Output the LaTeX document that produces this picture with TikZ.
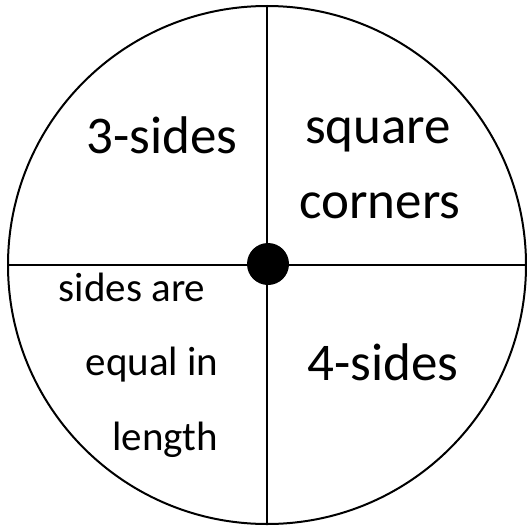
\documentclass[tikz,border=0pt]{standalone}
\usepackage{fontspec}
\setmainfont{Carlito}
\begin{document}
\begin{tikzpicture}[x=1pt,y=-1pt,
  big/.style={anchor=base,font=\fontsize{53}{60}\selectfont,inner sep=0pt},
  small/.style={anchor=base,font=\fontsize{41}{48}\selectfont,inner sep=0pt},
  line/.style={line width=2pt}]
\useasboundingbox (0,0) rectangle (527,527);
\coordinate (c) at (267,265);
\node[circle,draw,line width=2pt,minimum size=518pt,inner sep=0pt] (ring) at (c) {};
\draw[line] (ring.north) -- (ring.south);
\draw[line] (ring.west) -- (ring.east);
\node[circle,fill=black,minimum size=42pt,inner sep=0pt] (dot) at (268,264) {};
\node[big] (t3) at (162,153) {3-sides};
\node[big] (sq) at (378,143) {square};
\node[big] (co) at (380,218) {corners};
\node[big] (t4) at (383,380) {4-sides};
\node[small] (sa) at (132,301) {sides are};
\node[small] (eq) at (152,375) {equal in};
\node[small] (le) at (165,450) {length};
\end{tikzpicture}
\end{document}
